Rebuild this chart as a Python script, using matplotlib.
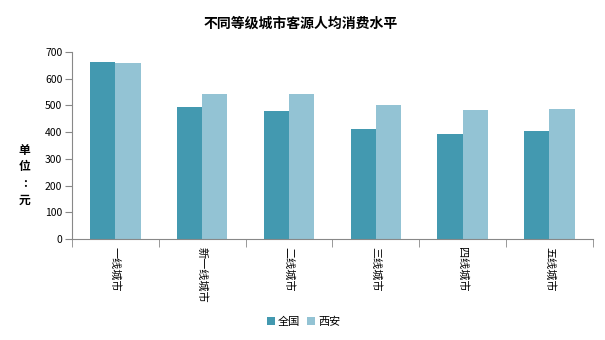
import matplotlib.pyplot as plt
import numpy as np

plt.rcParams['font.family'] = ['Noto Sans CJK SC', 'DejaVu Sans']

cities = ['一线城市', '新一线城市', '二线城市', '三线城市', '四线城市', '五线城市']
national = [661, 494, 479, 412, 393, 404]
xian = [658, 542, 542, 501, 482, 486]

fig = plt.figure(figsize=(6.05, 3.4), dpi=100)
ax = fig.add_axes([0.119, 0.297, 0.861, 0.55])

x = np.arange(len(cities))
width = 0.29
ax.bar(x - width / 2, national, width, color='#4399b0', label='全国')
ax.bar(x + width / 2, xian, width, color='#93c3d4', label='西安')

ax.set_xlim(-0.5, len(cities) - 0.5)
ax.set_ylim(0, 700)
ax.set_yticks(range(0, 701, 100))
ax.set_xticks(x)
ax.set_xticklabels(cities, rotation=270, fontsize=8)
ax.set_xticks(np.arange(-0.5, len(cities)), minor=True)
ax.tick_params(axis='x', which='major', length=0, pad=6)
ax.tick_params(axis='x', which='minor', length=6, color='#888888', direction='out')
ax.tick_params(axis='y', length=5, color='#888888', labelsize=7.5, pad=2)

for s in ['top', 'right']:
    ax.spines[s].set_visible(False)
for s in ['left', 'bottom']:
    ax.spines[s].set_color('#888888')

fig.text(0.497, 0.93, '不同等级城市客源人均消费水平', ha='center', va='center',
         fontsize=10, fontweight='bold')
fig.text(0.041, 0.485, '单\n位\n:\n元', ha='center', va='center',
         fontsize=8.5, fontweight='bold', linespacing=1.35)

ax.legend(loc='center', bbox_to_anchor=(0.502, 0.053), bbox_transform=fig.transFigure,
          ncol=2, frameon=False, fontsize=8, handlelength=0.7, handleheight=0.7,
          handletextpad=0.3, columnspacing=0.6)

fig.savefig('out.png', dpi=100)
